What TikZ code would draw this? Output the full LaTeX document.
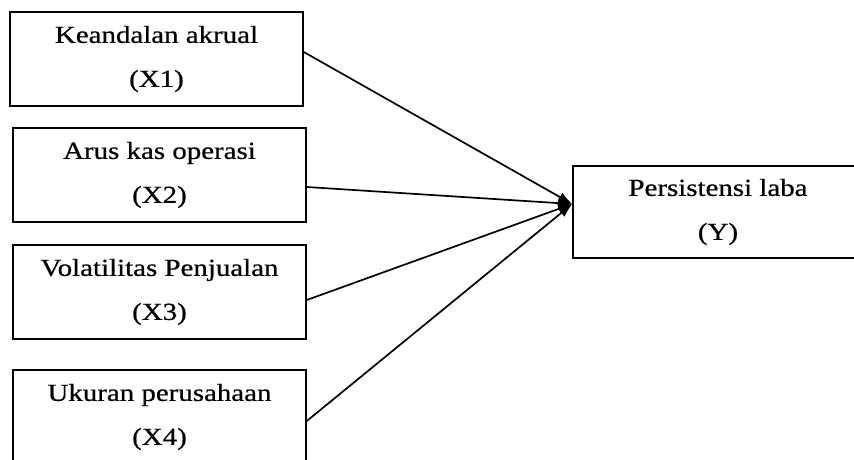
\documentclass[tikz,border=0pt]{standalone}
\usepackage{fontspec}
\setmainfont[FakeStretch=1.18,FakeBold=0.6]{Liberation Serif}
\usetikzlibrary{arrows.meta}
\tikzset{
  varbox/.style={draw,line width=1.6pt,minimum width=293pt,minimum height=94pt,align=center,inner sep=0pt,font=\fontsize{24.5}{44}\selectfont},
  path/.style={line width=1.7pt,-{Latex[length=14pt,width=10pt]}}
}
\begin{document}
\begin{tikzpicture}[x=1pt,y=-1pt]
\useasboundingbox (0,0) rectangle (854,460);
\clip (0,0) rectangle (854,460);

% Independent variables
\node[varbox] (x1) at (156.5,59) {Keandalan akrual\\(X1)};
\node[varbox] (x2) at (159.5,175) {Arus kas operasi\\(X2)};
\node[varbox] (x3) at (159.5,292) {Volatilitas Penjualan\\(X3)};
\node[varbox] (x4) at (159.5,417) {Ukuran perusahaan\\(X4)};

% Dependent variable
\node[varbox,minimum width=290pt,minimum height=92pt] (y) at (718,212) {Persistensi laba\\(Y)};

% Arrows
\draw[path] ([yshift=7pt]x1.east) -- ([yshift=8pt]y.west);
\draw[path] ([yshift=-12pt]x2.east) -- ([yshift=8pt]y.west);
\draw[path] ([yshift=-8pt]x3.east) -- ([yshift=8pt]y.west);
\draw[path] ([yshift=-4pt]x4.east) -- ([yshift=8pt]y.west);
\end{tikzpicture}
\end{document}
